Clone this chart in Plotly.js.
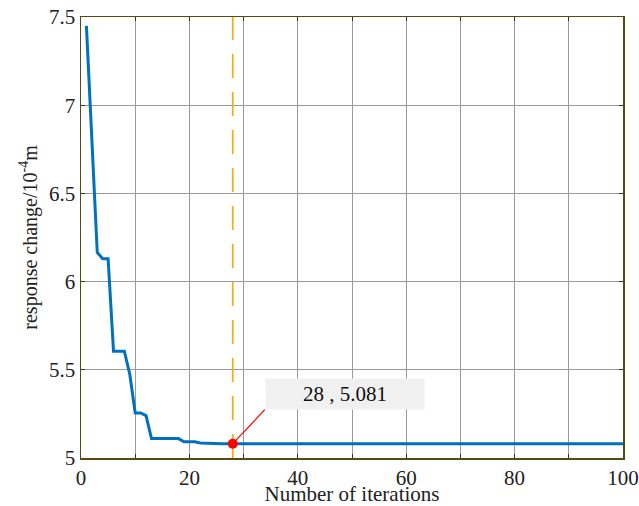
<!DOCTYPE html>
<html><head><meta charset="utf-8">
<script src="https://cdn.plot.ly/plotly-3.0.1.min.js"></script>
<style>html,body{margin:0;padding:0;background:#fff}#c{width:639px;height:506px}</style>
</head><body><div id="c"></div>
<script>
var iterStart = [1,3,4,5,6,8,9,10,11,12,13,18,19,21,22,24];
var respStart = [7.45,6.165,6.13,6.13,5.605,5.605,5.475,5.255,5.255,5.24,5.11,5.11,5.092,5.092,5.085,5.081];
var tailValue = 5.081;
var lastIter = 100;
var markIter = 28;
var markValue = 5.081;
var markLabel = "28 , 5.081";

var xs = iterStart.slice(), ys = respStart.slice();
for (var i = 25; i <= lastIter; i++) { xs.push(i); ys.push(tailValue); }

var font = "Liberation Serif";
var data = [
  {x: [markIter, markIter], y: [5, 7.5], mode: "lines", line: {color: "#EDB120", width: 1.8, dash: "24px,14px"}, hoverinfo: "skip"},
  {x: xs, y: ys, mode: "lines", line: {color: "#0072BD", width: 3}},
  {x: [markIter], y: [markValue], mode: "markers", marker: {color: "#ff0000", size: 10}}
];
var axBase = {showgrid: true, gridcolor: "#9a9a9a", gridwidth: 1, zeroline: false,
  showline: true, mirror: "ticks", linecolor: "#5a4a10", linewidth: 1.5,
  ticks: "inside", ticklen: 4, tickcolor: "#333", tickfont: {family: font, size: 21, color: "#222"}};
var layout = {
  width: 639, height: 506, showlegend: false,
  margin: {l: 81, r: 16, t: 17, b: 48},
  paper_bgcolor: "#fff", plot_bgcolor: "#fff",
  font: {family: font},
  xaxis: Object.assign({}, axBase, {range: [0, 100], dtick: 20, tick0: 0,
    minor: {dtick: 10, showgrid: true, gridcolor: "#9a9a9a", gridwidth: 1, ticks: "inside", ticklen: 4, tickcolor: "#333"},
    title: {text: "Number of iterations", font: {family: font, size: 21, color: "#222"}, standoff: 3}}),
  yaxis: Object.assign({}, axBase, {range: [5, 7.5], dtick: 0.5,
    title: {text: "response change/10<sup>-4</sup>m", font: {family: font, size: 20, color: "#222"}, standoff: 6}}),
  annotations: [{x: markIter, y: markValue, xref: "x", yref: "y", text: markLabel,
    showarrow: true, arrowhead: 0, arrowcolor: "#ff0000", arrowwidth: 1.2,
    ax: 32, ay: -34, xanchor: "left", yanchor: "bottom",
    width: 156, height: 28, bgcolor: "#f0f0f0", borderpad: 1,
    font: {family: font, size: 21, color: "#111"}}]
};
Plotly.newPlot("c", data, layout, {displayModeBar: false, staticPlot: true});
</script></body></html>
